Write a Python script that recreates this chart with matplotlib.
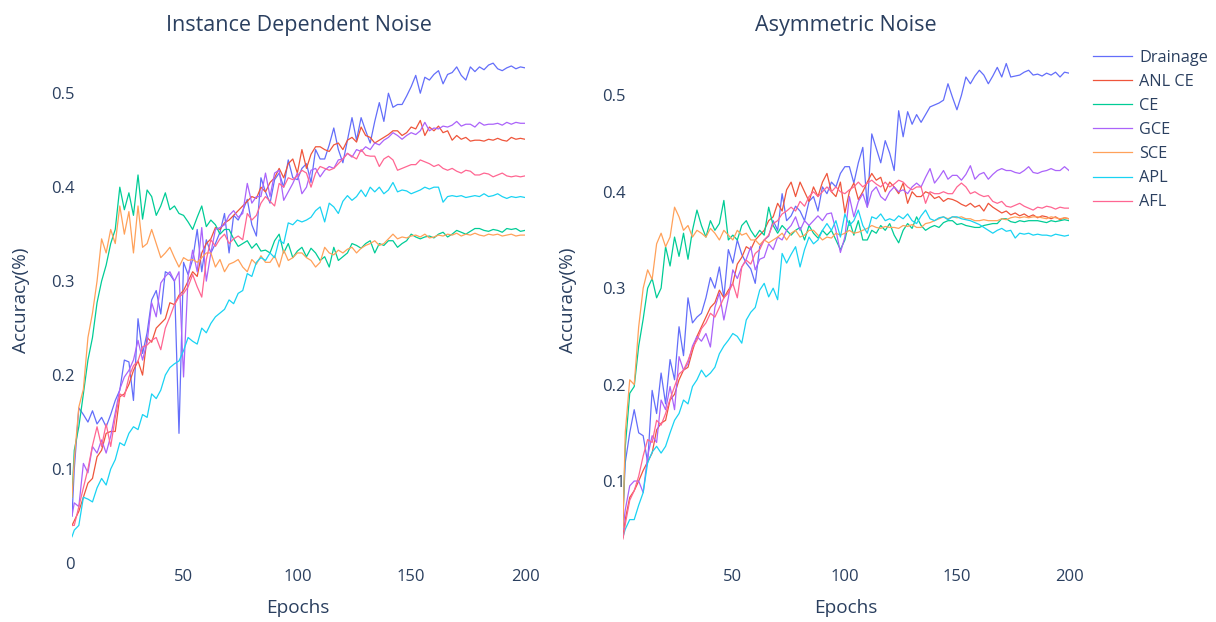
import matplotlib.pyplot as plt

# epochs sampled every 2 (plus the first one)
epochs = [1] + list(range(2, 201, 2))

names = ['Drainage', 'ANL CE', 'CE', 'GCE', 'SCE', 'APL', 'AFL']
colors = ['#636EFA', '#EF553B', '#00CC96', '#AB63FA', '#FFA15A', '#19D3F3', '#FF6692']

# ---- Instance Dependent Noise ----
idn_drainage = [0.05, 0.10, 0.165, 0.158, 0.15, 0.162, 0.148, 0.155, 0.145, 0.158, 0.173,
    0.184, 0.216, 0.214, 0.173, 0.26, 0.223, 0.245, 0.28, 0.29, 0.265,
    0.31, 0.307, 0.30, 0.138, 0.32, 0.307, 0.323, 0.355, 0.31, 0.344,
    0.33, 0.34, 0.352, 0.372, 0.33, 0.37, 0.365, 0.375, 0.387, 0.36,
    0.348, 0.41, 0.395, 0.383, 0.408, 0.415, 0.40, 0.429, 0.41, 0.408,
    0.42, 0.425, 0.405, 0.44, 0.43, 0.43, 0.445, 0.463, 0.44, 0.426,
    0.45, 0.474, 0.45, 0.474, 0.46, 0.447, 0.47, 0.49, 0.47, 0.50,
    0.485, 0.488, 0.488, 0.497, 0.507, 0.519, 0.50, 0.517, 0.514, 0.52,
    0.524, 0.51, 0.52, 0.522, 0.528, 0.519, 0.514, 0.528, 0.523, 0.528,
    0.525, 0.53, 0.532, 0.526, 0.524, 0.527, 0.529, 0.526, 0.528, 0.527]
idn_anlce = [0.04, 0.045, 0.055, 0.07, 0.085, 0.09, 0.113, 0.12, 0.138, 0.14, 0.14,
    0.177, 0.18, 0.19, 0.205, 0.215, 0.20, 0.24, 0.235, 0.25, 0.255,
    0.26, 0.277, 0.275, 0.285, 0.29, 0.30, 0.31, 0.305, 0.33, 0.34,
    0.345, 0.357, 0.355, 0.362, 0.365, 0.37, 0.375, 0.38, 0.385, 0.39,
    0.388, 0.40, 0.395, 0.405, 0.41, 0.42, 0.41, 0.425, 0.43, 0.415,
    0.44, 0.42, 0.435, 0.443, 0.443, 0.44, 0.438, 0.445, 0.447, 0.44,
    0.45, 0.453, 0.448, 0.464, 0.455, 0.453, 0.447, 0.45, 0.453, 0.456,
    0.46, 0.46, 0.455, 0.458, 0.464, 0.462, 0.471, 0.455, 0.464, 0.46,
    0.465, 0.458, 0.46, 0.45, 0.455, 0.451, 0.453, 0.449, 0.45, 0.45,
    0.449, 0.451, 0.45, 0.452, 0.45, 0.449, 0.453, 0.451, 0.452, 0.451]
idn_ce = [0.07, 0.12, 0.145, 0.18, 0.216, 0.24, 0.277, 0.30, 0.317, 0.34, 0.355,
    0.40, 0.376, 0.394, 0.37, 0.413, 0.366, 0.397, 0.39, 0.37, 0.38,
    0.394, 0.376, 0.38, 0.372, 0.37, 0.363, 0.355, 0.368, 0.38, 0.358,
    0.365, 0.36, 0.35, 0.355, 0.355, 0.345, 0.337, 0.34, 0.343, 0.335,
    0.34, 0.332, 0.333, 0.33, 0.343, 0.35, 0.33, 0.34, 0.325, 0.332,
    0.336, 0.326, 0.335, 0.33, 0.322, 0.326, 0.315, 0.336, 0.322, 0.326,
    0.33, 0.34, 0.338, 0.335, 0.34, 0.343, 0.33, 0.34, 0.338, 0.343,
    0.343, 0.336, 0.34, 0.343, 0.35, 0.347, 0.345, 0.347, 0.348, 0.346,
    0.35, 0.352, 0.347, 0.35, 0.354, 0.352, 0.35, 0.353, 0.356, 0.356,
    0.354, 0.353, 0.355, 0.354, 0.352, 0.356, 0.355, 0.356, 0.353, 0.354]
idn_gce = [0.05, 0.064, 0.06, 0.106, 0.096, 0.124, 0.117, 0.131, 0.117, 0.135, 0.16,
    0.185, 0.198, 0.205, 0.216, 0.237, 0.216, 0.235, 0.277, 0.262, 0.298,
    0.305, 0.31, 0.30, 0.31, 0.198, 0.305, 0.333, 0.31, 0.357, 0.30,
    0.33, 0.355, 0.357, 0.36, 0.37, 0.375, 0.368, 0.372, 0.404, 0.383,
    0.39, 0.39, 0.415, 0.39, 0.415, 0.418, 0.386, 0.395, 0.404, 0.415,
    0.393, 0.40, 0.418, 0.42, 0.411, 0.418, 0.422, 0.42, 0.429, 0.43,
    0.436, 0.432, 0.44, 0.438, 0.443, 0.44, 0.447, 0.445, 0.45, 0.453,
    0.458, 0.455, 0.451, 0.455, 0.458, 0.456, 0.46, 0.469, 0.46, 0.463,
    0.462, 0.465, 0.464, 0.466, 0.47, 0.465, 0.467, 0.467, 0.464, 0.469,
    0.466, 0.467, 0.467, 0.468, 0.466, 0.469, 0.467, 0.469, 0.468, 0.468]
idn_sce = [0.07, 0.11, 0.166, 0.185, 0.24, 0.266, 0.30, 0.345, 0.33, 0.355, 0.34,
    0.38, 0.35, 0.374, 0.33, 0.38, 0.336, 0.34, 0.355, 0.34, 0.325,
    0.33, 0.336, 0.325, 0.315, 0.325, 0.322, 0.323, 0.32, 0.325, 0.33,
    0.33, 0.315, 0.323, 0.31, 0.318, 0.32, 0.323, 0.315, 0.31, 0.323,
    0.318, 0.327, 0.32, 0.32, 0.327, 0.315, 0.333, 0.322, 0.325, 0.33,
    0.33, 0.325, 0.322, 0.315, 0.32, 0.336, 0.33, 0.328, 0.333, 0.33,
    0.334, 0.336, 0.33, 0.335, 0.338, 0.34, 0.343, 0.338, 0.34, 0.345,
    0.35, 0.345, 0.347, 0.346, 0.348, 0.349, 0.347, 0.35, 0.346, 0.347,
    0.349, 0.348, 0.35, 0.349, 0.351, 0.348, 0.35, 0.349, 0.351, 0.349,
    0.348, 0.35, 0.349, 0.35, 0.348, 0.349, 0.35, 0.348, 0.349, 0.349]
idn_apl = [0.028, 0.035, 0.04, 0.07, 0.068, 0.065, 0.08, 0.09, 0.083, 0.10, 0.11,
    0.128, 0.125, 0.138, 0.145, 0.142, 0.158, 0.155, 0.18, 0.175, 0.184,
    0.20, 0.208, 0.212, 0.215, 0.226, 0.24, 0.236, 0.233, 0.25, 0.245,
    0.255, 0.262, 0.266, 0.27, 0.28, 0.276, 0.287, 0.29, 0.308, 0.305,
    0.32, 0.325, 0.322, 0.33, 0.325, 0.344, 0.34, 0.362, 0.36, 0.365,
    0.363, 0.365, 0.368, 0.375, 0.379, 0.363, 0.383, 0.379, 0.372, 0.385,
    0.391, 0.386, 0.39, 0.397, 0.39, 0.40, 0.395, 0.40, 0.393, 0.397,
    0.405, 0.395, 0.397, 0.396, 0.393, 0.395, 0.397, 0.40, 0.398, 0.40,
    0.40, 0.384, 0.39, 0.391, 0.39, 0.391, 0.389, 0.39, 0.391, 0.39,
    0.393, 0.39, 0.391, 0.393, 0.39, 0.388, 0.39, 0.389, 0.39, 0.389]
idn_afl = [0.04, 0.04, 0.06, 0.08, 0.10, 0.125, 0.145, 0.124, 0.148, 0.124, 0.155,
    0.18, 0.177, 0.198, 0.21, 0.215, 0.23, 0.232, 0.237, 0.24, 0.227,
    0.25, 0.262, 0.275, 0.283, 0.287, 0.294, 0.307, 0.294, 0.283, 0.323,
    0.344, 0.337, 0.345, 0.35, 0.34, 0.345, 0.348, 0.344, 0.372, 0.365,
    0.37, 0.383, 0.39, 0.385, 0.38, 0.404, 0.40, 0.41, 0.408, 0.412,
    0.418, 0.415, 0.40, 0.415, 0.422, 0.42, 0.418, 0.42, 0.425, 0.43,
    0.436, 0.433, 0.43, 0.44, 0.434, 0.433, 0.433, 0.422, 0.43, 0.433,
    0.429, 0.418, 0.42, 0.422, 0.424, 0.424, 0.429, 0.427, 0.425, 0.422,
    0.424, 0.42, 0.418, 0.42, 0.417, 0.415, 0.418, 0.417, 0.413, 0.413,
    0.415, 0.414, 0.411, 0.413, 0.415, 0.412, 0.411, 0.412, 0.411, 0.412]

# ---- Asymmetric Noise ----
asym_drainage = [0.067, 0.119, 0.15, 0.174, 0.15, 0.147, 0.119, 0.194, 0.17, 0.212, 0.18,
    0.226, 0.205, 0.26, 0.23, 0.29, 0.264, 0.27, 0.274, 0.29, 0.311,
    0.30, 0.322, 0.29, 0.34, 0.326, 0.35, 0.335, 0.326, 0.32, 0.305,
    0.343, 0.35, 0.354, 0.37, 0.36, 0.398, 0.37, 0.375, 0.385, 0.38,
    0.37, 0.39, 0.395, 0.38, 0.405, 0.398, 0.41, 0.405, 0.419, 0.426,
    0.426, 0.409, 0.43, 0.446, 0.384, 0.46, 0.445, 0.43, 0.453, 0.44,
    0.422, 0.484, 0.457, 0.483, 0.47, 0.48, 0.472, 0.48, 0.488, 0.49,
    0.492, 0.495, 0.512, 0.498, 0.485, 0.50, 0.519, 0.512, 0.52, 0.526,
    0.521, 0.512, 0.52, 0.529, 0.519, 0.533, 0.519, 0.52, 0.521, 0.524,
    0.526, 0.521, 0.522, 0.52, 0.523, 0.521, 0.524, 0.519, 0.524, 0.523]
asym_anlce = [0.042, 0.06, 0.083, 0.09, 0.10, 0.111, 0.12, 0.129, 0.153, 0.16, 0.163,
    0.184, 0.19, 0.205, 0.215, 0.218, 0.235, 0.25, 0.26, 0.27, 0.28,
    0.285, 0.298, 0.29, 0.298, 0.305, 0.325, 0.332, 0.343, 0.34, 0.35,
    0.355, 0.36, 0.37, 0.374, 0.388, 0.38, 0.402, 0.41, 0.395, 0.41,
    0.40, 0.39, 0.405, 0.395, 0.41, 0.419, 0.40, 0.395, 0.41, 0.378,
    0.40, 0.409, 0.392, 0.40, 0.41, 0.419, 0.412, 0.415, 0.40, 0.41,
    0.405, 0.398, 0.409, 0.388, 0.40, 0.395, 0.395, 0.40, 0.398, 0.393,
    0.395, 0.39, 0.393, 0.392, 0.39, 0.387, 0.385, 0.388, 0.384, 0.386,
    0.38, 0.388, 0.384, 0.381, 0.378, 0.38, 0.376, 0.378, 0.375, 0.377,
    0.374, 0.376, 0.373, 0.375, 0.374, 0.372, 0.374, 0.371, 0.373, 0.372]
asym_ce = [0.06, 0.135, 0.191, 0.198, 0.24, 0.268, 0.30, 0.31, 0.29, 0.30, 0.343,
    0.323, 0.353, 0.333, 0.357, 0.33, 0.36, 0.381, 0.365, 0.353, 0.37,
    0.36, 0.367, 0.391, 0.35, 0.355, 0.35, 0.365, 0.37, 0.36, 0.353,
    0.36, 0.355, 0.384, 0.365, 0.357, 0.365, 0.36, 0.355, 0.36, 0.363,
    0.35, 0.365, 0.357, 0.352, 0.36, 0.355, 0.36, 0.35, 0.34, 0.35,
    0.37, 0.355, 0.37, 0.35, 0.35, 0.36, 0.357, 0.365, 0.36, 0.367,
    0.355, 0.347, 0.36, 0.367, 0.362, 0.374, 0.365, 0.36, 0.363, 0.365,
    0.363, 0.368, 0.37, 0.37, 0.366, 0.367, 0.365, 0.364, 0.363, 0.363,
    0.365, 0.366, 0.367, 0.367, 0.372, 0.372, 0.369, 0.368, 0.37, 0.369,
    0.37, 0.37, 0.37, 0.369, 0.368, 0.37, 0.369, 0.37, 0.371, 0.37]
asym_gce = [0.05, 0.07, 0.095, 0.10, 0.10, 0.088, 0.126, 0.147, 0.14, 0.184, 0.174,
    0.198, 0.174, 0.229, 0.215, 0.222, 0.24, 0.25, 0.245, 0.253, 0.239,
    0.28, 0.295, 0.267, 0.29, 0.319, 0.31, 0.322, 0.33, 0.343, 0.319,
    0.33, 0.332, 0.346, 0.34, 0.353, 0.35, 0.36, 0.365, 0.374, 0.36,
    0.37, 0.365, 0.37, 0.375, 0.37, 0.377, 0.378, 0.36, 0.337, 0.353,
    0.395, 0.374, 0.39, 0.398, 0.384, 0.40, 0.405, 0.395, 0.391, 0.40,
    0.405, 0.40, 0.402, 0.398, 0.405, 0.409, 0.405, 0.415, 0.424, 0.409,
    0.415, 0.422, 0.413, 0.417, 0.417, 0.412, 0.418, 0.427, 0.413, 0.418,
    0.42, 0.413, 0.418, 0.422, 0.424, 0.422, 0.422, 0.42, 0.419, 0.422,
    0.426, 0.42, 0.419, 0.421, 0.422, 0.424, 0.422, 0.422, 0.426, 0.422]
asym_sce = [0.052, 0.15, 0.205, 0.20, 0.26, 0.30, 0.319, 0.309, 0.346, 0.357, 0.343,
    0.353, 0.384, 0.374, 0.36, 0.365, 0.353, 0.36, 0.357, 0.353, 0.362,
    0.357, 0.35, 0.36, 0.355, 0.35, 0.36, 0.355, 0.357, 0.35, 0.35,
    0.345, 0.35, 0.347, 0.35, 0.353, 0.357, 0.35, 0.357, 0.36, 0.353,
    0.355, 0.36, 0.36, 0.355, 0.35, 0.353, 0.352, 0.357, 0.355, 0.357,
    0.36, 0.357, 0.358, 0.36, 0.362, 0.365, 0.363, 0.362, 0.364, 0.363,
    0.363, 0.362, 0.365, 0.364, 0.366, 0.363, 0.363, 0.367, 0.368, 0.37,
    0.372, 0.374, 0.372, 0.374, 0.373, 0.374, 0.372, 0.372, 0.37, 0.37,
    0.371, 0.37, 0.37, 0.37, 0.372, 0.371, 0.373, 0.374, 0.373, 0.374,
    0.373, 0.374, 0.374, 0.373, 0.372, 0.374, 0.373, 0.372, 0.373, 0.372]
asym_apl = [0.042, 0.05, 0.06, 0.06, 0.075, 0.088, 0.119, 0.13, 0.136, 0.129, 0.136,
    0.15, 0.163, 0.17, 0.184, 0.18, 0.198, 0.205, 0.215, 0.208, 0.212,
    0.218, 0.232, 0.24, 0.246, 0.253, 0.25, 0.243, 0.267, 0.275, 0.28,
    0.298, 0.305, 0.291, 0.30, 0.288, 0.336, 0.326, 0.335, 0.343, 0.322,
    0.34, 0.353, 0.346, 0.35, 0.36, 0.367, 0.36, 0.37, 0.353, 0.377,
    0.365, 0.37, 0.381, 0.365, 0.357, 0.374, 0.372, 0.377, 0.37, 0.372,
    0.37, 0.375, 0.372, 0.377, 0.37, 0.367, 0.375, 0.381, 0.372, 0.37,
    0.373, 0.374, 0.371, 0.374, 0.374, 0.372, 0.371, 0.37, 0.368, 0.366,
    0.363, 0.36, 0.357, 0.36, 0.362, 0.359, 0.36, 0.352, 0.357, 0.356,
    0.357, 0.355, 0.356, 0.355, 0.355, 0.354, 0.356, 0.355, 0.354, 0.355]
asym_afl = [0.04, 0.055, 0.08, 0.09, 0.105, 0.126, 0.143, 0.14, 0.163, 0.158, 0.17,
    0.185, 0.198, 0.211, 0.215, 0.225, 0.238, 0.246, 0.258, 0.264, 0.274,
    0.27, 0.28, 0.29, 0.295, 0.305, 0.29, 0.322, 0.329, 0.325, 0.336,
    0.34, 0.35, 0.355, 0.367, 0.37, 0.377, 0.38, 0.384, 0.38, 0.39,
    0.385, 0.395, 0.40, 0.395, 0.40, 0.405, 0.40, 0.405, 0.40, 0.398,
    0.402, 0.405, 0.41, 0.405, 0.409, 0.412, 0.408, 0.405, 0.41, 0.405,
    0.408, 0.412, 0.41, 0.405, 0.402, 0.405, 0.405, 0.388, 0.40, 0.398,
    0.398, 0.40, 0.398, 0.398, 0.405, 0.409, 0.405, 0.398, 0.40, 0.397,
    0.395, 0.396, 0.39, 0.388, 0.39, 0.385, 0.384, 0.386, 0.388, 0.385,
    0.383, 0.381, 0.384, 0.383, 0.385, 0.384, 0.382, 0.384, 0.383, 0.383]

idn = [idn_drainage, idn_anlce, idn_ce, idn_gce, idn_sce, idn_apl, idn_afl]
asym = [asym_drainage, asym_anlce, asym_ce, asym_gce, asym_sce, asym_apl, asym_afl]

txt = '#2a3f5f'
plt.rcParams['font.family'] = ['Open Sans', 'DejaVu Sans']

W, H = 1216, 622
fig = plt.figure(figsize=(W/100, H/100), dpi=100)
ax1 = fig.add_axes([72/W, 1-563/H, 453/W, 513/H])
ax2 = fig.add_axes([623/W, 1-563/H, 446/W, 513/H])

panels = [
    (ax1, idn, 'Instance Dependent Noise', (0.0, 0.546), [0, 0.1, 0.2, 0.3, 0.4, 0.5], 21, 298),
    (ax2, asym, 'Asymmetric Noise', (0.015, 0.547), [0.1, 0.2, 0.3, 0.4, 0.5], 568, 846),
]
for ax, data, title, ylim, yt, ylab_x, xlab_x in panels:
    for name, c, ys in zip(names, colors, data):
        ax.plot(epochs, ys, color=c, lw=0.9, label=name)
    ax.set_xlim(1, 200)
    ax.set_ylim(*ylim)
    ax.set_xticks([50, 100, 150, 200])
    ax.set_yticks(yt)
    ax.set_yticklabels(['0' if v == 0 else str(v) for v in yt])
    for s in ax.spines.values():
        s.set_visible(False)
    ax.tick_params(length=0, labelsize=12, colors=txt)
    ax.tick_params(axis='y', pad=-2)
    ax.tick_params(axis='x', pad=4)
    ax.set_title(title, fontsize=15.5, color=txt, pad=14)
    # axis titles placed in figure pixels
    fig.text(ylab_x/W, 1-300/H, 'Accuracy(%)', rotation=90, ha='center', va='center',
             fontsize=13.7, color=txt)
    fig.text(xlab_x/W, 1-608/H, 'Epochs', ha='center', va='center',
             fontsize=13.7, color=txt)

handles, labels = ax1.get_legend_handles_labels()
fig.legend(handles, labels, loc='upper left', bbox_to_anchor=(1078/W, 1-35/H),
           frameon=False, fontsize=11.7, labelcolor=txt, handlelength=2.4,
           handletextpad=0.45, labelspacing=0.5)

fig.savefig('out.png', dpi=100, facecolor='white')
